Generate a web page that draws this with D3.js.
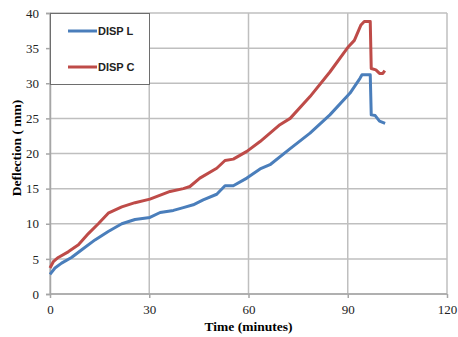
<!DOCTYPE html>
<html>
<head>
<meta charset="utf-8">
<script src="https://cdn.jsdelivr.net/npm/d3@7"></script>
<style>
  body { margin: 0; background: #fff; }
  svg { display: block; }
</style>
</head>
<body>
<svg width="458" height="337"></svg>
<script>
// values (time in minutes, deflection in mm)
const timeL = [0, 1.5, 3.5, 6.5, 9.6, 13.6, 17.6, 21.7, 25.7, 30.2, 33.3, 37.3, 40.3, 43.3, 46.3, 50.4, 52.9, 55.4, 59.5, 63.5, 66.5, 72.6, 78.6, 84.6, 90.7, 93.7, 94.3, 96.8, 97.1, 98.3, 99.6, 101.3];
const dispL = [2.8, 3.7, 4.4, 5.2, 6.3, 7.7, 8.9, 10.0, 10.6, 10.9, 11.6, 11.9, 12.3, 12.7, 13.4, 14.2, 15.4, 15.4, 16.5, 17.8, 18.4, 20.7, 22.9, 25.5, 28.6, 30.7, 31.2, 31.2, 25.5, 25.4, 24.6, 24.3];
const timeC = [0, 1, 2.5, 5.5, 8.6, 11.6, 14.6, 17.6, 21.7, 25.7, 30.2, 36.3, 40.3, 42.3, 45.3, 50.4, 52.9, 55.4, 59.5, 63.5, 69.5, 72.6, 78.6, 84.6, 90.2, 92, 94, 95, 96.8, 97.1, 98.5, 99.6, 100.6, 101.2];
const dispC = [3.7, 4.6, 5.2, 6.0, 7.0, 8.6, 10.0, 11.5, 12.4, 13.0, 13.5, 14.6, 15.0, 15.3, 16.5, 17.9, 19.0, 19.2, 20.3, 21.7, 24.1, 25.0, 28.1, 31.6, 35.2, 36.1, 38.3, 38.8, 38.8, 32.1, 31.9, 31.4, 31.4, 31.8];
const seriesNames = ["DISP L", "DISP C"];
const colors = ["#4a7ebb", "#be4b48"];
const xTicks = [0, 30, 60, 90, 120];
const yTicks = [0, 5, 10, 15, 20, 25, 30, 35, 40];

const svg = d3.select('svg');
const margin = {left: 50, right: 11, top: 13, bottom: 43};
const width = +svg.attr('width');
const height = +svg.attr('height');

const x = d3.scaleLinear().domain([0, 120]).range([margin.left, width - margin.right]);
const y = d3.scaleLinear().domain([0, 40]).range([height - margin.bottom, margin.top]);

// grid
svg.append('g').selectAll('line.v').data(xTicks).join('line')
    .attr('x1', d => x(d)).attr('x2', d => x(d))
    .attr('y1', y(0)).attr('y2', y(40))
    .attr('stroke', '#bfbfbf').attr('stroke-width', 1.5);
svg.append('g').selectAll('line.h').data(yTicks).join('line')
    .attr('x1', x(0)).attr('x2', x(120))
    .attr('y1', d => y(d)).attr('y2', d => y(d))
    .attr('stroke', '#bfbfbf').attr('stroke-width', 1.5);

// axes
const xAxis = svg.append('g')
    .attr('transform', `translate(0,${y(0)})`)
    .call(d3.axisBottom(x).tickValues(xTicks).tickSize(4).tickPadding(7));
const yAxis = svg.append('g')
    .attr('transform', `translate(${x(0)},0)`)
    .call(d3.axisLeft(y).tickValues(yTicks).tickSize(4).tickPadding(7));
[xAxis, yAxis].forEach(a => {
    a.selectAll('path, line').attr('stroke', '#a6a6a6').attr('stroke-width', 1.5);
    a.selectAll('text').attr('font-family', '"Liberation Serif", serif').attr('font-size', 13).attr('fill', '#222');
});
xAxis.select('.domain').attr('d', `M${x(0)},0H${x(120)}`);

// lines
const line = d3.line().x(d => x(d[0])).y(d => y(d[1]));
const dataL = d3.zip(timeL, dispL);
const dataC = d3.zip(timeC, dispC);
[dataL, dataC].forEach((dat, i) => {
    svg.append('path')
        .datum(dat)
        .attr('fill', 'none')
        .attr('stroke', colors[i])
        .attr('stroke-width', 3)
        .attr('stroke-linejoin', 'round')
        .attr('d', line);
});

// legend
const lg = svg.append('g');
lg.append('rect')
    .attr('x', 50.5).attr('y', 13.5).attr('width', 99).attr('height', 71)
    .attr('fill', '#fff').attr('stroke', '#6e6e6e').attr('stroke-width', 1);
seriesNames.forEach((name, i) => {
    const ly = 31 + i * 36;
    lg.append('line')
        .attr('x1', 68).attr('x2', 97).attr('y1', ly).attr('y2', ly)
        .attr('stroke', colors[i]).attr('stroke-width', 3);
    lg.append('text')
        .attr('x', 98).attr('y', ly + 4)
        .attr('font-family', '"Liberation Sans", Arial, sans-serif')
        .attr('font-weight', 'bold').attr('font-size', 11)
        .attr('fill', '#222')
        .text(name);
});

// axis titles
svg.append('text')
    .attr('x', x(60)).attr('y', 331)
    .attr('text-anchor', 'middle')
    .attr('font-family', '"Liberation Serif", serif')
    .attr('font-weight', 'bold').attr('font-size', 13.5)
    .text('Time (minutes)');
svg.append('text')
    .attr('transform', 'translate(21,148) rotate(-90)')
    .attr('text-anchor', 'middle')
    .attr('font-family', '"Liberation Serif", serif')
    .attr('font-weight', 'bold').attr('font-size', 13.5)
    .text('Deflection ( mm)');
</script>
</body>
</html>
